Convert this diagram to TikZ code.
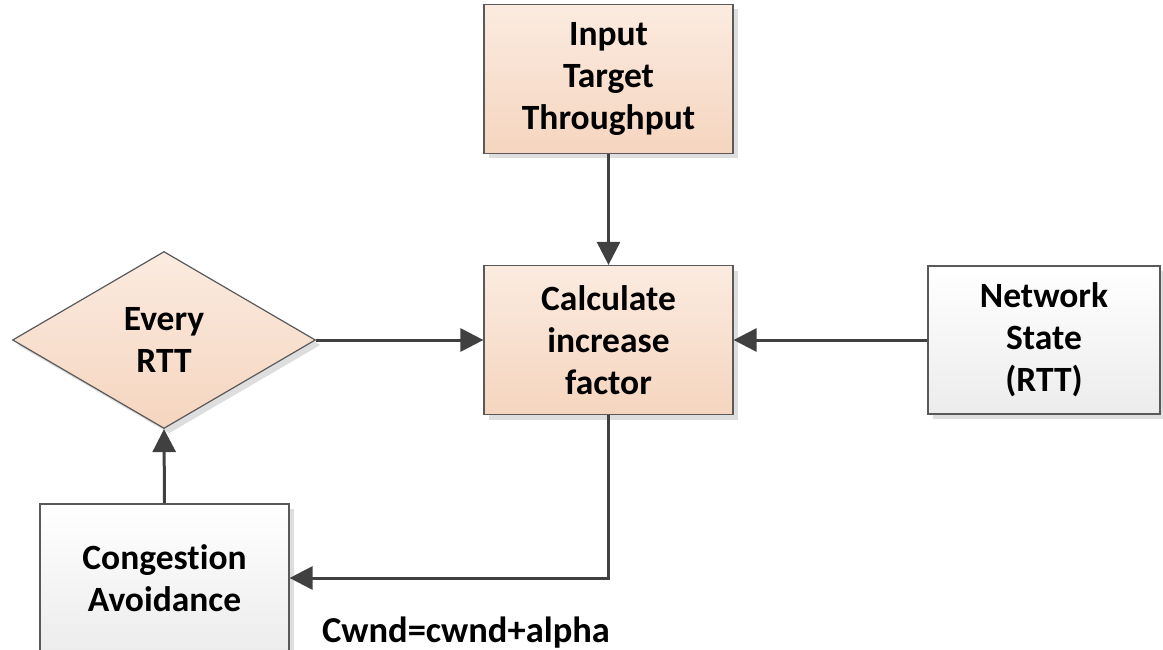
\documentclass[tikz,border=0pt]{standalone}
\usepackage{fontspec}
\setmainfont{Carlito}[Ligatures=CommonOff]
\usetikzlibrary{arrows.meta,shapes.geometric,shadows}

\definecolor{pfirsichoben}{RGB}{251,235,224}
\definecolor{pfirsichunten}{RGB}{245,213,191}
\definecolor{grauunten}{RGB}{236,236,236}
\definecolor{rahmen}{RGB}{89,89,89}
\definecolor{pfeilfarbe}{RGB}{64,64,64}
\definecolor{schatten}{RGB}{222,222,222}

\begin{document}
\begin{tikzpicture}[x=1pt, y=-1pt,
	kasten/.style={draw=rahmen, line width=1.2pt, align=center,
		minimum width=249pt, minimum height=149pt, inner sep=0pt,
		font=\fontsize{35.5}{42}\selectfont\bfseries,
		drop shadow={shadow xshift=5pt, shadow yshift=-5pt, fill=schatten, opacity=1}},
	pfirsich/.style={kasten, top color=pfirsichoben, bottom color=pfirsichunten},
	grau/.style={kasten, top color=white, bottom color=grauunten},
	raute/.style={pfirsich, shape=diamond, minimum width=303pt, minimum height=177pt, aspect=1.7},
	pfeil/.style={draw=pfeilfarbe, line width=3pt, -{Triangle[length=23pt,width=23pt]}}]
	% Rahmen des Bildes
	\path[fill=white, use as bounding box] (0,0) rectangle (1163,650);
	% Kaesten
	\node[pfirsich] (eingabe) at (608.5,79) {Input\\Target\\Throughput};
	\node[pfirsich] (faktor) at (608.5,340) {Calculate\\increase\\factor};
	\node[raute] (rtt) at (164,340) {Every\\RTT};
	\node[grau, minimum width=232pt, minimum height=148pt] (netz) at (1044,340) {Network\\State\\(RTT)};
	\node[grau, minimum height=148pt] (stau) at (164.5,578) {Congestion\\Avoidance};
	% Beschriftung
	\node[font=\fontsize{36.5}{42}\selectfont\bfseries] (formel) at (466,633) {Cwnd=cwnd+alpha};
	% Pfeile
	\draw[pfeil] (eingabe) -- (faktor);
	\draw[pfeil] (rtt.east) -- (faktor.west);
	\draw[pfeil] (netz.west) -- (faktor.east);
	\draw[pfeil] (faktor.south) |- (stau.east);
	\draw[pfeil] (stau.north) -- (rtt.south);
\end{tikzpicture}
\end{document}
